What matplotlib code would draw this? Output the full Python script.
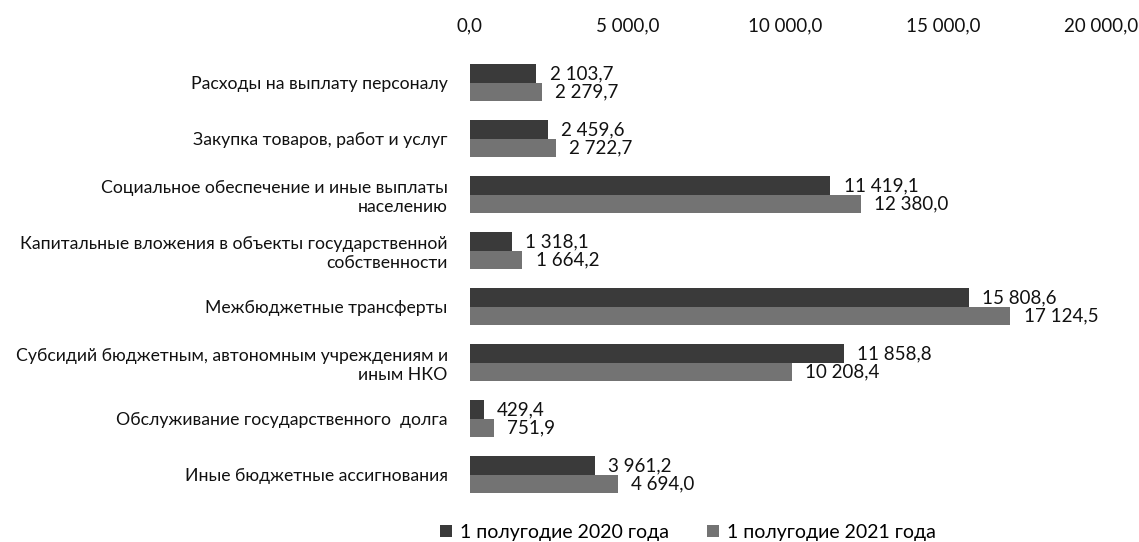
import matplotlib.pyplot as plt
import numpy as np
from matplotlib.ticker import FuncFormatter

# Данные
categories = [
    'Расходы на выплату персоналу',
    'Закупка товаров, работ и услуг',
    'Социальное обеспечение и иные выплаты\nнаселению',
    'Капитальные вложения в объекты государственной\nсобственности',
    'Межбюджетные трансферты',
    'Субсидий бюджетным, автономным учреждениям и\nиным НКО',
    'Обслуживание государственного  долга',
    'Иные бюджетные ассигнования',
]
values_2020 = [2103.7, 2459.6, 11419.1, 1318.1, 15808.6, 11858.8, 429.4, 3961.2]
values_2021 = [2279.7, 2722.7, 12380.0, 1664.2, 17124.5, 10208.4, 751.9, 4694.0]
series_names = ['1 полугодие 2020 года', '1 полугодие 2021 года']
x_ticks = [0, 5000, 10000, 15000, 20000]


def fmt(v):
    # формат 12 380,0
    s = f'{v:,.1f}'
    return s.replace(',', ' ').replace('.', ',')


plt.rcParams['font.family'] = ['Lato', 'DejaVu Sans']

fig = plt.figure(figsize=(11.39, 5.42), dpi=100)
ax = fig.add_axes([0.4126, 0.072, 0.5541, 0.8266])

y = np.arange(len(categories))
h = 0.33
bars1 = ax.barh(y - h / 2, values_2020, height=h, color='#3a3a3a', label=series_names[0])
bars2 = ax.barh(y + h / 2, values_2021, height=h, color='#737373', label=series_names[1])

# Подписи значений
for bars, vals in [(bars1, values_2020), (bars2, values_2021)]:
    for b, v in zip(bars, vals):
        ax.text(b.get_width() + 420, b.get_y() + b.get_height() / 2, fmt(v),
                va='center', ha='left', fontsize=13.5, color='#111111')

ax.set_xlim(0, 20000)
ax.set_ylim(len(categories) - 0.5, -0.5)
ax.set_xticks(x_ticks)
ax.xaxis.set_major_formatter(FuncFormatter(lambda v, p: fmt(v)))
ax.xaxis.tick_top()
ax.tick_params(axis='x', length=0, labelsize=13.5, pad=15, colors='#111111')
ax.set_yticks(y)
ax.set_yticklabels(categories, fontsize=12.7, color='#111111', ha='right')
ax.tick_params(axis='y', length=0, pad=16)
for s in ax.spines.values():
    s.set_visible(False)

fig.legend(loc='lower center', bbox_to_anchor=(0.604, -0.03), ncol=2, frameon=False,
           fontsize=14, handlelength=0.6, handleheight=0.6, columnspacing=2.0, handletextpad=0.4)

fig.savefig('out.png', dpi=100)
